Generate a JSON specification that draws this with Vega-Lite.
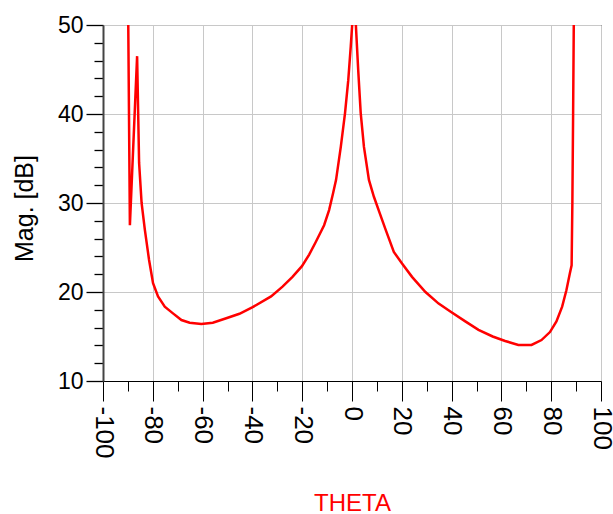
{
  "$schema": "https://vega.github.io/schema/vega-lite/v6.json",
  "width": 498,
  "height": 356,
  "autosize": "none",
  "padding": {"left": 103, "top": 25, "right": 12, "bottom": 133},
  "background": "white",
  "view": {"stroke": "black", "strokeWidth": 1},
  "data": {"values": [
    {"theta": -90, "mag": 55},
    {"theta": -89.2, "mag": 27.5},
    {"theta": -86.3, "mag": 46.5},
    {"theta": -85.5, "mag": 34.5},
    {"theta": -84.5, "mag": 30.0},
    {"theta": -83.2, "mag": 27.0},
    {"theta": -81.5, "mag": 23.6},
    {"theta": -79.9, "mag": 21.0},
    {"theta": -77.9, "mag": 19.5},
    {"theta": -75.2, "mag": 18.35},
    {"theta": -71.9, "mag": 17.6},
    {"theta": -68.5, "mag": 16.85},
    {"theta": -65.2, "mag": 16.55},
    {"theta": -60.5, "mag": 16.4},
    {"theta": -55.9, "mag": 16.55},
    {"theta": -50.5, "mag": 17.05},
    {"theta": -45.2, "mag": 17.55},
    {"theta": -39.9, "mag": 18.3},
    {"theta": -32.5, "mag": 19.5},
    {"theta": -27.9, "mag": 20.6},
    {"theta": -23.9, "mag": 21.7},
    {"theta": -20.1, "mag": 22.9},
    {"theta": -17.2, "mag": 24.2},
    {"theta": -14.5, "mag": 25.65},
    {"theta": -11.2, "mag": 27.5},
    {"theta": -9.2, "mag": 29.2},
    {"theta": -7.6, "mag": 31.1},
    {"theta": -6.4, "mag": 32.6},
    {"theta": -4.5, "mag": 36.3},
    {"theta": -2.8, "mag": 40.1},
    {"theta": -1.5, "mag": 43.8},
    {"theta": -0.5, "mag": 47.6},
    {"theta": 0.9, "mag": 53.5},
    {"theta": 2.5, "mag": 44.9},
    {"theta": 3.5, "mag": 40.1},
    {"theta": 4.8, "mag": 36.3},
    {"theta": 6.8, "mag": 32.6},
    {"theta": 8.8, "mag": 30.7},
    {"theta": 11.2, "mag": 28.8},
    {"theta": 13.5, "mag": 27.0},
    {"theta": 16.8, "mag": 24.5},
    {"theta": 20.1, "mag": 23.2},
    {"theta": 24.1, "mag": 21.7},
    {"theta": 29.5, "mag": 20.0},
    {"theta": 34.8, "mag": 18.7},
    {"theta": 39.5, "mag": 17.8},
    {"theta": 45.5, "mag": 16.7},
    {"theta": 50.8, "mag": 15.75},
    {"theta": 56.5, "mag": 15.0},
    {"theta": 61.5, "mag": 14.5},
    {"theta": 66.8, "mag": 14.05},
    {"theta": 72.1, "mag": 14.05},
    {"theta": 76.1, "mag": 14.6},
    {"theta": 79.5, "mag": 15.5},
    {"theta": 82.1, "mag": 16.7},
    {"theta": 84.4, "mag": 18.35},
    {"theta": 86.1, "mag": 20.2},
    {"theta": 87.5, "mag": 22.1},
    {"theta": 88.2, "mag": 23.0},
    {"theta": 88.5, "mag": 30},
    {"theta": 88.8, "mag": 40},
    {"theta": 89.2, "mag": 55}
  ]},
  "mark": {"type": "line", "color": "#ff0000", "strokeWidth": 2.5, "clip": true},
  "encoding": {
    "x": {
      "field": "theta",
      "type": "quantitative",
      "scale": {"domain": [-100, 100], "nice": false, "zero": false},
      "axis": {
        "title": "THETA",
        "values": [-100, -90, -80, -70, -60, -50, -40, -30, -20, -10, 0, 10, 20, 30, 40, 50, 60, 70, 80, 90, 100],
        "labelExpr": "datum.value % 20 === 0 ? '' + datum.value : ''",
        "labelAngle": 90,
        "labelAlign": "left",
        "labelBaseline": "middle",
        "labelFont": "Liberation Sans, sans-serif",
        "labelFontSize": 26,
        "labelColor": "black",
        "labelPadding": 5,
        "labelOverlap": false,
        "labelFlush": false,
        "tickSize": {"condition": {"test": "datum.value % 20 === 0", "value": 20}, "value": 10},
        "tickColor": "black",
        "tickWidth": 1,
        "domainColor": "black",
        "domainWidth": 1,
        "grid": true,
        "gridColor": "#c8c8c8",
        "gridWidth": 1,
        "gridOpacity": {"condition": {"test": "datum.value % 20 === 0", "value": 1}, "value": 0},
        "titleColor": "#ff0000",
        "titleFont": "Liberation Sans, sans-serif",
        "titleFontSize": 24,
        "titleFontWeight": "normal",
        "titleY": 129,
        "titleBaseline": "alphabetic"
      }
    },
    "y": {
      "field": "mag",
      "type": "quantitative",
      "scale": {"domain": [10, 50], "nice": false, "zero": false},
      "axis": {
        "title": "Mag. [dB]",
        "values": [10, 12, 14, 16, 18, 20, 22, 24, 26, 28, 30, 32, 34, 36, 38, 40, 42, 44, 46, 48, 50],
        "labelExpr": "datum.value % 10 === 0 ? '' + datum.value : ''",
        "labelFont": "Liberation Sans, sans-serif",
        "labelFontSize": 23,
        "labelColor": "black",
        "labelPadding": 3,
        "labelOverlap": false,
        "labelFlush": false,
        "tickSize": {"condition": {"test": "datum.value % 10 === 0", "value": 17}, "value": 9},
        "tickColor": "black",
        "tickWidth": 1.3,
        "domainColor": "#444444",
        "domainWidth": 2,
        "grid": true,
        "gridColor": "#c8c8c8",
        "gridWidth": 1,
        "gridOpacity": {"condition": {"test": "datum.value % 10 === 0", "value": 1}, "value": 0},
        "titleFont": "Liberation Sans, sans-serif",
        "titleFontSize": 25,
        "titleFontWeight": "normal",
        "titleColor": "black",
        "titleAngle": -90,
        "titleAlign": "center",
        "titleBaseline": "alphabetic",
        "titleX": -71,
        "titleY": 183
      }
    }
  }
}
